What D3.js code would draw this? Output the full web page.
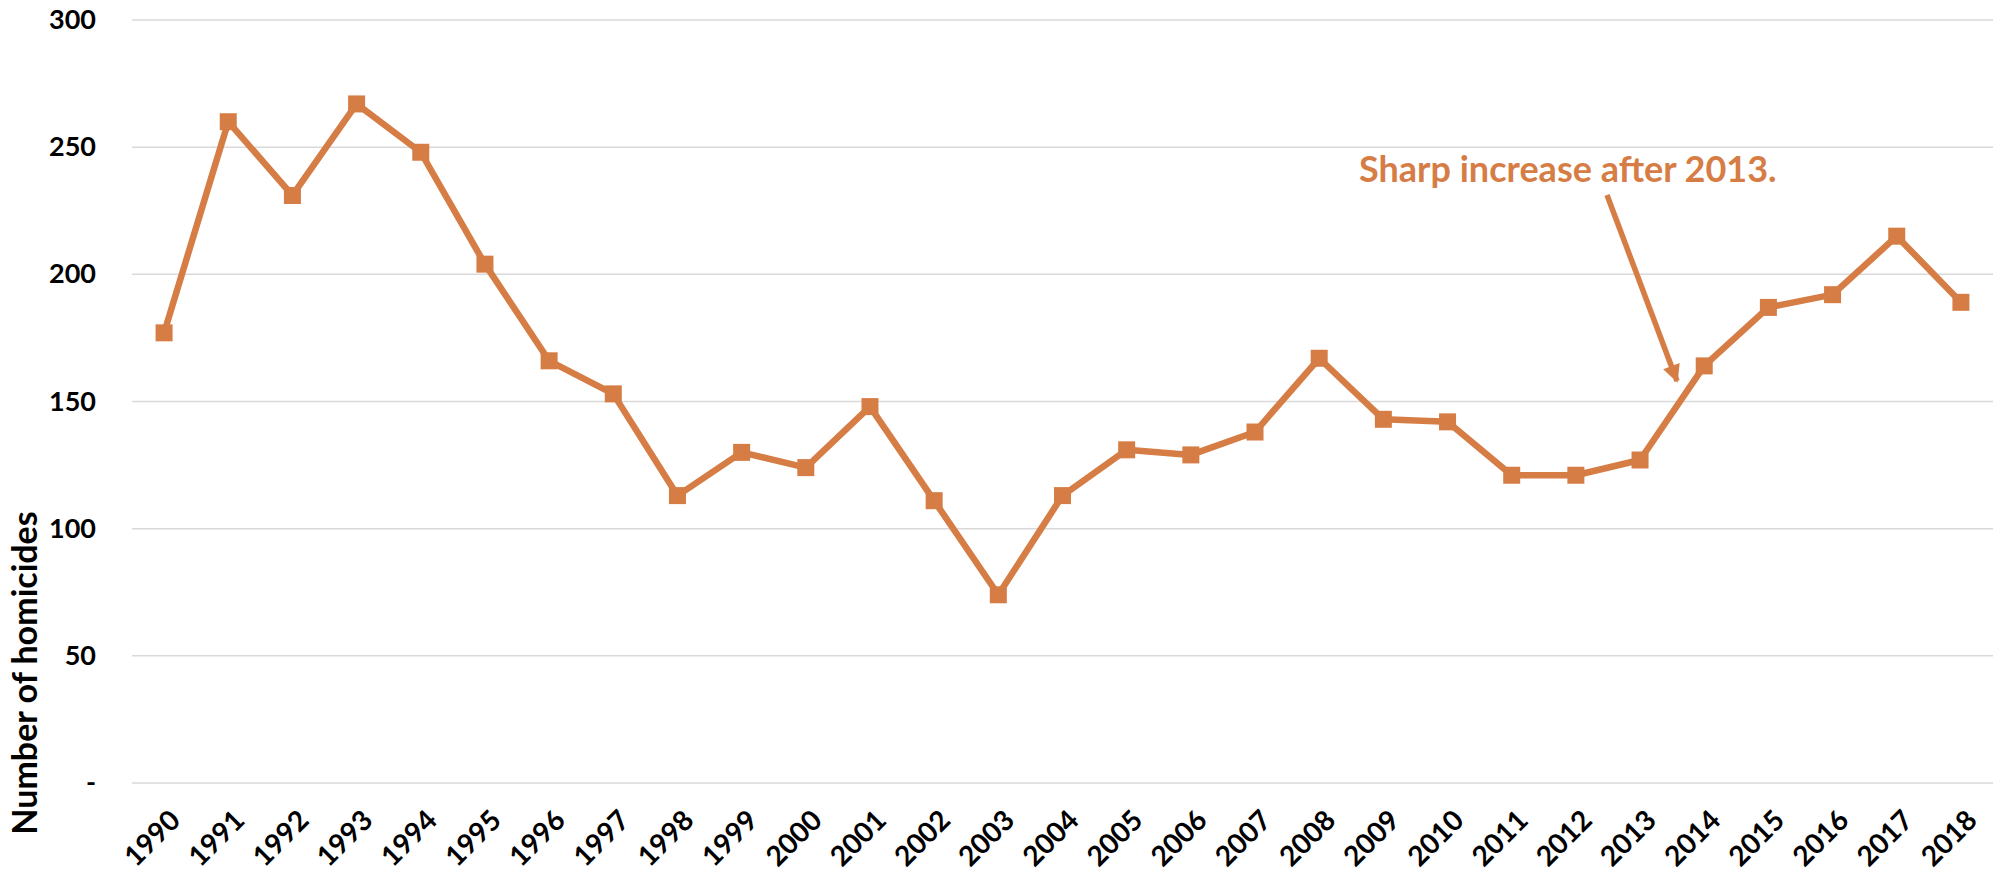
<!DOCTYPE html>
<html>
<head>
<meta charset="utf-8">
<script src="https://cdn.jsdelivr.net/npm/d3@7"></script>
<style>
  body { margin: 0; background: #fff; }
  svg text { font-family: Lato, "Open Sans", sans-serif; font-weight: bold; }
</style>
</head>
<body>
<div id="viz"></div>
<script>
const years = ["1990", "1991", "1992", "1993", "1994", "1995", "1996", "1997", "1998", "1999",
               "2000", "2001", "2002", "2003", "2004", "2005", "2006", "2007", "2008", "2009",
               "2010", "2011", "2012", "2013", "2014", "2015", "2016", "2017", "2018"];
const homicides = [177, 260, 231, 267, 248, 204, 166, 153, 113, 130,
                   124, 148, 111, 74, 113, 131, 129, 138, 167, 143,
                   142, 121, 121, 127, 164, 187, 192, 215, 189];
const yTicks = [0, 50, 100, 150, 200, 250, 300];
const yTitle = "Number of homicides";
const noteText = "Sharp increase after 2013.";

const width = 2007, height = 881;
const orange = "#D67D46";

const svg = d3.select("#viz")
              .append("svg")
              .attr("width", width)
              .attr("height", height);

const x = d3.scalePoint()
            .domain(years)
            .range([132, 1993])
            .padding(0.5);

const y = d3.scaleLinear()
            .domain([0, 300])
            .range([783, 20]);

// horizontal gridlines
svg.append("g")
   .selectAll("line")
   .data(yTicks)
   .join("line")
   .attr("x1", 132)
   .attr("x2", 1993)
   .attr("y1", d => y(d))
   .attr("y2", d => y(d))
   .attr("stroke", "#d9d9d9")
   .attr("stroke-width", 1.5);

// y axis labels
const yAxis = d3.axisLeft(y)
                .tickValues(yTicks)
                .tickSize(0)
                .tickPadding(0)
                .tickFormat(d => d === 0 ? "-" : d);
svg.append("g")
   .attr("transform", "translate(96,0)")
   .call(yAxis)
   .call(g => g.select(".domain").remove())
   .call(g => g.selectAll("text")
               .attr("font-size", 27)
               .attr("font-family", "Lato, sans-serif")
               .attr("font-weight", "bold")
               .attr("fill", "#000"));

// x axis labels, rotated
svg.append("g")
   .selectAll("text")
   .data(years)
   .join("text")
   .attr("transform", d => `translate(${x(d) + 11},${815}) rotate(-45)`)
   .attr("text-anchor", "end")
   .attr("dy", "0.35em")
   .attr("font-size", 28)
   .attr("fill", "#000")
   .text(d => d);

// y axis title
svg.append("text")
   .attr("transform", "translate(37,673) rotate(-90)")
   .attr("text-anchor", "middle")
   .attr("font-size", 34)
   .attr("fill", "#000")
   .text(yTitle);

// the series line
const line = d3.line()
               .x((d, i) => x(years[i]))
               .y(d => y(d));

svg.append("path")
   .datum(homicides)
   .attr("d", line)
   .attr("fill", "none")
   .attr("stroke", orange)
   .attr("stroke-width", 6.5)
   .attr("stroke-linejoin", "round");

const size = 17;
svg.append("g")
   .selectAll("rect")
   .data(homicides)
   .join("rect")
   .attr("x", (d, i) => x(years[i]) - size / 2)
   .attr("y", d => y(d) - size / 2)
   .attr("width", size)
   .attr("height", size)
   .attr("fill", orange);

// annotation with arrow
const defs = svg.append("defs");
defs.append("marker")
    .attr("id", "arrow")
    .attr("viewBox", "0 0 10 10")
    .attr("refX", 9)
    .attr("refY", 5)
    .attr("markerWidth", 3.6)
    .attr("markerHeight", 3.2)
    .attr("markerUnits", "strokeWidth")
    .attr("orient", "auto")
    .append("path")
    .attr("d", "M0,0 L10,5 L0,10 Z")
    .attr("fill", orange);

svg.append("line")
   .attr("x1", 1607)
   .attr("y1", 195)
   .attr("x2", 1677)
   .attr("y2", 381)
   .attr("stroke", orange)
   .attr("stroke-width", 5.5)
   .attr("marker-end", "url(#arrow)");

svg.append("text")
   .attr("x", 1359)
   .attr("y", 182)
   .attr("font-size", 36)
   .attr("fill", orange)
   .text(noteText);
</script>
</body>
</html>
